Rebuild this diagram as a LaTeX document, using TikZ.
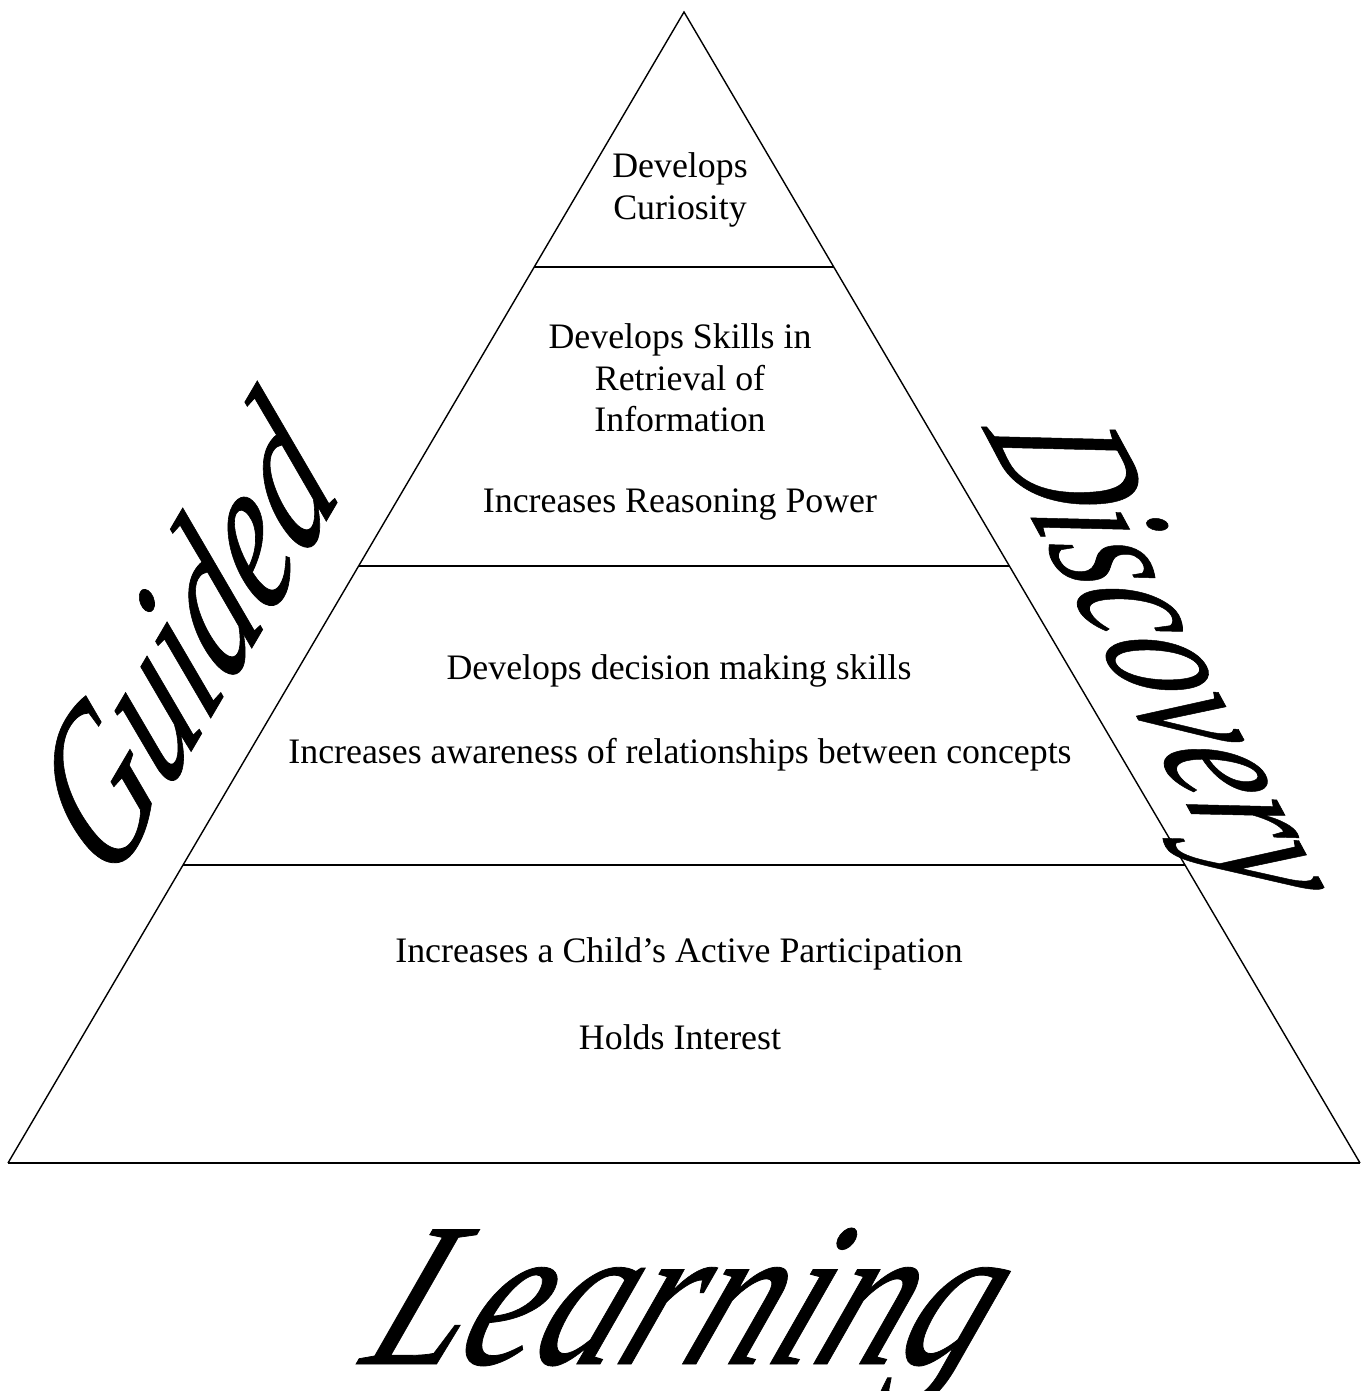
\documentclass[tikz,border=0pt]{standalone}
\usepackage{fontspec}
\setmainfont{Liberation Serif}
\newfontfamily\wordfont{Liberation Serif}[FakeBold=0.4]
\usetikzlibrary{calc}

\begin{document}
\begin{tikzpicture}[x=0.02cm, y=-0.02cm,
        side/.style={line width=0.8pt},
        tier/.style={line width=1.2pt},
        item/.style={align=center, inner sep=0pt, font=\fontsize{20.4}{23.5}\selectfont},
        big/.style={inner sep=0pt, anchor=base, font=\wordfont\fontsize{#1}{#1}\selectfont\itshape}
    ]
        \useasboundingbox (0,0) rectangle (1364,1391);

        % Pyramid outline
        \coordinate (top) at (684,12);
        \coordinate (bl) at (8,1163);
        \coordinate (br) at (1360,1163);
        \draw[side] (bl) -- (top) -- (br);
        \draw[tier] (bl) -- (br);

        % Tier boundaries
        \foreach \t/\n in {0.2215/a, 0.4813/b, 0.7411/c} {
            \coordinate (l\n) at ($(top)!\t!(bl)$);
            \coordinate (r\n) at ($(top)!\t!(br)$);
            \draw[tier] (l\n) -- (r\n);
        }

        % Tier texts
        \node[item] (curiosity) at (680,190) {Develops\\Curiosity};
        \node[item] (skills) at (680,378) {Develops Skills in\\Retrieval of\\Information};
        \node[item] (reasoning) at (680,505) {Increases Reasoning Power};
        \node[item] (decision) at (679,671) {Develops decision making skills};
        \node[item] (awareness) at (680,755) {Increases awareness of relationships between concepts};
        \node[item] (participation) at (679,954) {Increases a Child's Active Participation};
        \node[item] (interest) at (680,1037) {Holds Interest};

        % Big slanted words round the pyramid
        \node[big=107, rotate=59.6, xscale=0.83, xslant=0.5] (guided) at (226,692) {Guided};
        \node[big=101, rotate=-61.5, xscale=0.74, xslant=0.6] (discovery) at (1109,662) {Discovery};
        \node[big=117, xscale=0.82, xslant=0.52] (learning) at (667,1364) {Learning};
    \end{tikzpicture}
\end{document}
